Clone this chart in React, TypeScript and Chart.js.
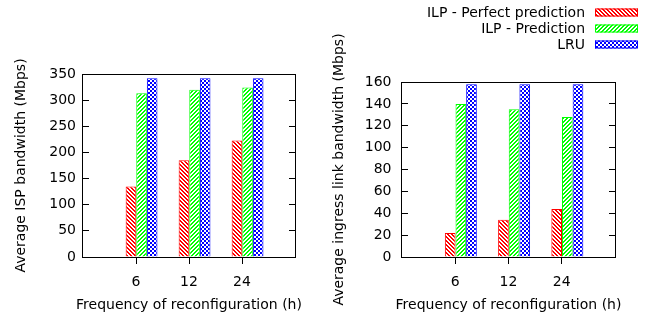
import React, { useEffect, useRef } from 'react';
import { Chart, registerables } from 'chart.js';

Chart.register(...registerables);

// ---- data ----
const categories = ['6', '12', '24'];
const seriesLabels = ['ILP - Perfect prediction', 'ILP - Prediction', 'LRU'];
const seriesColors = ['#ff0000', '#00ff00', '#0000ff'];

const ispPerfect = [135, 185, 223];
const ispPrediction = [313, 320, 324];
const ispLRU = [342, 342, 342];
const ispYTicks = [0, 50, 100, 150, 200, 250, 300, 350];

const ingressPerfect = [22, 34, 44];
const ingressPrediction = [140, 135, 128];
const ingressLRU = [158, 158, 158];
const ingressYTicks = [0, 20, 40, 60, 80, 100, 120, 140, 160];

const xTitle = 'Frequency of reconfiguration (h)';
const ispTitle = 'Average ISP bandwidth (Mbps)';
const ingressTitle = 'Average ingress link bandwidth (Mbps)';

const FONT = { family: "'DejaVu Sans', sans-serif", size: 14 };
const SHIFT = 0.105;

function makePattern(kind: number, color: string): CanvasPattern | string {
  const c = document.createElement('canvas');
  c.width = 8;
  c.height = 8;
  const g = c.getContext('2d');
  if (!g) return color;
  g.fillStyle = '#ffffff';
  g.fillRect(0, 0, 8, 8);
  g.fillStyle = color;
  for (let y = 0; y < 8; y++) {
    for (let x = 0; x < 8; x++) {
      let on = false;
      if (kind === 0) on = x % 4 === y % 4 || (x + 1) % 4 === y % 4;
      else if (kind === 1) on = x % 4 === 3 - (y % 4) || (x + 1) % 4 === 3 - (y % 4);
      else on = (Math.floor(x / 2) + Math.floor(y / 2)) % 2 === 0;
      if (on) g.fillRect(x, y, 1, 1);
    }
  }
  const p = g.createPattern(c, 'repeat');
  return p || color;
}

const framePlugin = {
  id: 'frame',
  afterDatasetsDraw(chart: any) {
    const { ctx, chartArea } = chart;
    const l = Math.round(chartArea.left) - 0.5;
    const t = Math.round(chartArea.top) + 0.5;
    const r = Math.round(chartArea.right) + 0.5;
    const b = Math.round(chartArea.bottom) + 0.5;
    ctx.save();
    ctx.strokeStyle = '#000';
    ctx.lineWidth = 1;
    ctx.strokeRect(l, t, r - l, b - t);
    ctx.restore();
  },
};

// x-axis title drawn without the scale's maxWidth squeeze (gnuplot lets it overhang the plot)
const xTitlePlugin = {
  id: 'xTitleFree',
  afterDraw(chart: any) {
    const { ctx, chartArea } = chart;
    const s = chart.scales.xt;
    ctx.save();
    ctx.font = `${FONT.size}px ${FONT.family}`;
    ctx.fillStyle = '#000';
    ctx.textAlign = 'center';
    ctx.textBaseline = 'middle';
    ctx.fillText(xTitle, (chartArea.left + chartArea.right) / 2, s.bottom - 13);
    ctx.restore();
  },
};

interface PanelProps {
  left: number;
  width: number;
  series: number[][];
  yTicks: number[];
  yTitle: string;
  padTop: number;
  padRight: number;
  yAxisWidth: number;
  yTitlePad: number;
  yTickPad: number;
  legend: boolean;
}

function Panel(props: PanelProps) {
  const ref = useRef<HTMLCanvasElement>(null);
  useEffect(() => {
    const canvas = ref.current;
    if (!canvas) return;
    const patterns = seriesColors.map((c, i) => makePattern(i, c));
    const yMax = props.yTicks[props.yTicks.length - 1];
    const yStep = props.yTicks[1] - props.yTicks[0];

    const legendPlugin = {
      id: 'sideLegend',
      afterDraw(chart: any) {
        if (!props.legend) return;
        const { ctx } = chart;
        ctx.save();
        ctx.font = `${FONT.size}px ${FONT.family}`;
        ctx.textAlign = 'right';
        ctx.textBaseline = 'middle';
        chart.data.datasets.forEach((ds: any, i: number) => {
          const yc = 12.5 + 16 * i;
          ctx.fillStyle = '#000';
          ctx.fillText(ds.label, 259, yc + 0.5);
          ctx.fillStyle = ds.backgroundColor;
          ctx.fillRect(269, yc - 4, 43, 8);
          ctx.strokeStyle = ds.borderColor;
          ctx.lineWidth = 1;
          ctx.strokeRect(269.5, yc - 3.5, 42, 7);
        });
        ctx.restore();
      },
    };

    const chart = new Chart(canvas, {
      type: 'bar',
      data: {
        datasets: props.series.map((vals, k) => ({
          label: seriesLabels[k],
          data: vals.map((v, i) => ({ x: i, y: v })),
          backgroundColor: patterns[k] as any,
          borderColor: seriesColors[k],
          borderWidth: 1,
          categoryPercentage: 0.6,
          barPercentage: 1,
          xAxisID: 'x',
          yAxisID: 'y',
        })),
      },
      options: {
        animation: false,
        responsive: false,
        devicePixelRatio: 1,
        layout: { padding: { top: props.padTop, right: props.padRight, left: 0, bottom: 0 } },
        plugins: { legend: { display: false }, tooltip: { enabled: false } },
        scales: {
          x: {
            type: 'linear',
            display: false,
            offset: false,
            bounds: 'data',
            grid: { offset: false },
            min: -1 - SHIFT,
            max: categories.length - SHIFT,
          },
          xt: {
            type: 'linear',
            position: 'bottom',
            offset: false,
            bounds: 'data',
            min: -1,
            max: categories.length,
            afterBuildTicks: (s: any) => {
              s.ticks = categories.map((_, i) => ({ value: i }));
            },
            afterFit: (s: any) => {
              s.height = 61;
            },
            ticks: {
              callback: (v: any) => categories[v] ?? '',
              padding: 9.5,
              color: '#000',
              font: FONT,
              maxRotation: 0,
              autoSkip: false,
            },
            grid: { offset: false, drawOnChartArea: false, drawTicks: true, tickLength: 7, color: '#000' },
            border: { display: false },
            title: { display: false },
          },
          y: {
            type: 'linear',
            position: 'left',
            min: 0,
            max: yMax,
            afterFit: (s: any) => {
              s.width = props.yAxisWidth;
            },
            ticks: { stepSize: yStep, padding: props.yTickPad, color: '#000', font: FONT },
            grid: { drawOnChartArea: false, drawTicks: true, tickLength: -6, color: '#000' },
            border: { display: false },
            title: {
              display: true,
              text: props.yTitle,
              color: '#000',
              font: FONT,
              padding: { top: props.yTitlePad, bottom: 0 },
            },
          },
          y2: {
            type: 'linear',
            position: 'right',
            min: 0,
            max: yMax,
            afterFit: (s: any) => {
              s.width = 0;
            },
            ticks: { stepSize: yStep, display: false },
            grid: { drawOnChartArea: false, drawTicks: true, tickLength: -6, color: '#000' },
            border: { display: false },
          },
        } as any,
      },
      plugins: [framePlugin, xTitlePlugin, legendPlugin],
    });
    return () => chart.destroy();
  }, []);
  return (
    <canvas
      ref={ref}
      width={props.width}
      height={318}
      style={{ position: 'absolute', left: props.left, top: 0, width: props.width, height: 318 }}
    />
  );
}

export default function App() {
  return (
    <div
      style={{
        position: 'fixed',
        left: 0,
        top: 0,
        width: 652,
        height: 318,
        background: '#fff',
        overflow: 'hidden',
      }}
    >
      <Panel
        left={0}
        width={330}
        series={[ispPerfect, ispPrediction, ispLRU]}
        yTicks={ispYTicks}
        yTitle={ispTitle}
        padTop={74}
        padRight={35}
        yAxisWidth={83}
        yTitlePad={12.6}
        yTickPad={13}
        legend={false}
      />
      <Panel
        left={326}
        width={326}
        series={[ingressPerfect, ingressPrediction, ingressLRU]}
        yTicks={ingressYTicks}
        yTitle={ingressTitle}
        padTop={82}
        padRight={37}
        yAxisWidth={76}
        yTitlePad={4.6}
        yTickPad={16.5}
        legend={true}
      />
    </div>
  );
}
